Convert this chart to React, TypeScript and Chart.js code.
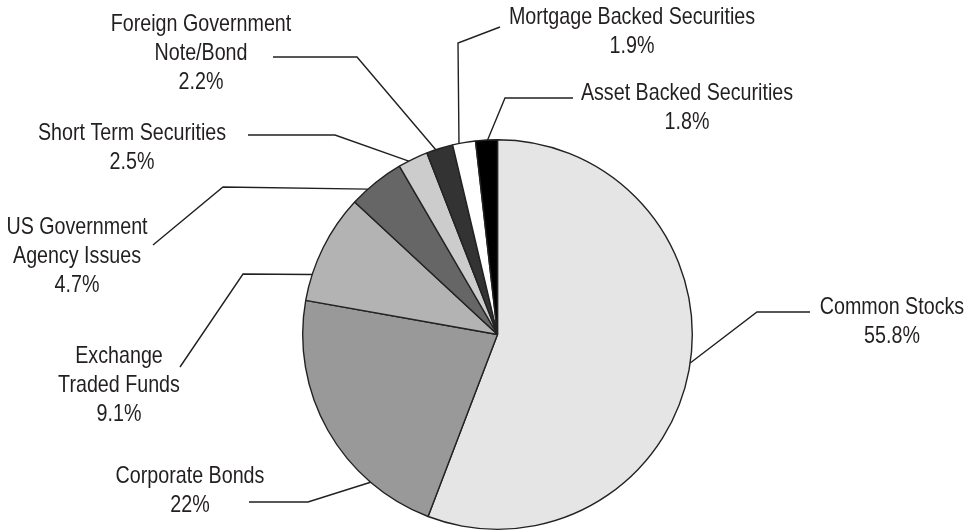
import React, { useEffect, useRef } from "react";
import { Chart, registerables } from "chart.js";

Chart.register(...registerables);

const categories = [
  "Common Stocks",
  "Corporate Bonds",
  "Exchange\nTraded Funds",
  "US Government\nAgency Issues",
  "Short Term Securities",
  "Foreign Government\nNote/Bond",
  "Mortgage Backed Securities",
  "Asset Backed Securities",
];

const values = [55.8, 22, 9.1, 4.7, 2.5, 2.2, 1.9, 1.8];

const sliceColors = [
  "#e5e5e5",
  "#999999",
  "#b3b3b3",
  "#666666",
  "#cccccc",
  "#333333",
  "#ffffff",
  "#000000",
];

// Label layout: anchor fraction along slice arc, leader-line bend & end, text centre/first line
const labelLayout = [
  { frac: 0.49, bend: [757, 312], end: [810, 312], tx: 892, ty: 307 },
  { frac: 0.25, bend: [308, 502], end: [249, 502], tx: 190, ty: 476 },
  { frac: 0.24, bend: [243, 274], end: [180, 367], tx: 119, ty: 356 },
  { frac: 0.32, bend: [223, 187], end: [153, 245], tx: 77, ty: 227 },
  { frac: 0.35, bend: [335, 135], end: [248, 135], tx: 132, ty: 133 },
  { frac: 0.35, bend: [357, 57], end: [273, 57], tx: 201, ty: 24 },
  { frac: 0.28, bend: [458, 43], end: [500, 27], tx: 632, ty: 17 },
  { frac: 0.55, bend: [505, 98], end: [573, 98], tx: 687, ty: 93 },
];

const LINE_HEIGHT = 29;
const FONT = '24px "Liberation Sans", Arial, Helvetica, sans-serif';
const NARROW = 0.82;

const labelPlugin = {
  id: "leaderLabels",
  afterDraw(chart: any) {
    const ctx = chart.ctx;
    const meta = chart.getDatasetMeta(0);
    ctx.save();
    meta.data.forEach((arc: any, i: number) => {
      const p = arc.getProps(["x", "y", "startAngle", "endAngle", "outerRadius"], true);
      const L = labelLayout[i];
      const a = p.startAngle + L.frac * (p.endAngle - p.startAngle);
      const ax = p.x + p.outerRadius * Math.cos(a);
      const ay = p.y + p.outerRadius * Math.sin(a);
      ctx.strokeStyle = "#231f20";
      ctx.lineWidth = 1.4;
      ctx.beginPath();
      ctx.moveTo(ax, ay);
      ctx.lineTo(L.bend[0], L.bend[1]);
      ctx.lineTo(L.end[0], L.end[1]);
      ctx.stroke();

      const lines = categories[i].split("\n").concat([String(values[i]) + "%"]);
      ctx.fillStyle = "#231f20";
      ctx.font = FONT;
      ctx.textAlign = "center";
      ctx.textBaseline = "middle";
      lines.forEach((t, k) => {
        ctx.save();
        ctx.translate(L.tx, L.ty + k * LINE_HEIGHT);
        ctx.scale(NARROW, 1);
        ctx.fillText(t, 0, 0);
        ctx.restore();
      });
    });
    ctx.restore();
  },
};

export default function App() {
  const ref = useRef<HTMLCanvasElement | null>(null);
  useEffect(() => {
    if (!ref.current) return;
    const chart = new Chart(ref.current, {
      type: "pie",
      data: {
        labels: categories.map((c) => c.replace("\n", " ")),
        datasets: [
          {
            data: values,
            backgroundColor: sliceColors,
            borderColor: "#222222",
            borderWidth: 1.4,
          },
        ],
      },
      options: {
        responsive: false,
        animation: false,
        layout: { padding: { left: 302, right: 277, top: 139, bottom: 1 } },
        plugins: {
          legend: { display: false },
          tooltip: { enabled: false },
        },
      },
      plugins: [labelPlugin],
    });
    return () => chart.destroy();
  }, []);
  return (
    <div style={{ position: "absolute", left: 0, top: 0, width: 970, height: 531, background: "#fff" }}>
      <canvas ref={ref} width={970} height={531} />
    </div>
  );
}
